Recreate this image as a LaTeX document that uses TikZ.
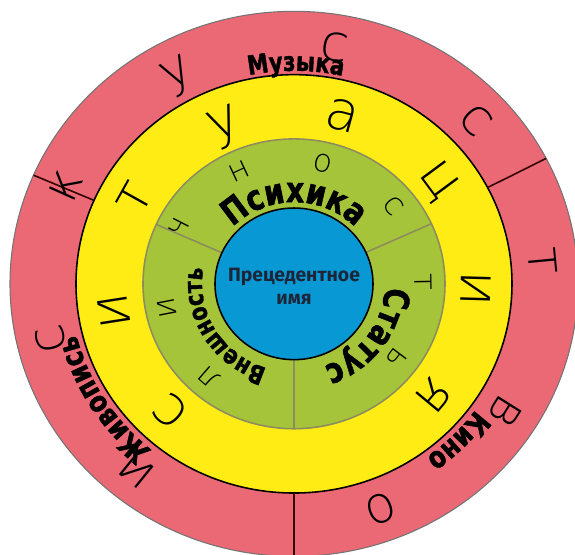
\documentclass[tikz,border=0pt]{standalone}
\usepackage{fontspec}
\setmainfont{Fira Sans}
\IfFontExistsTF{DejaVuSans-ExtraLight.ttf}
  {\newfontfamily\thinfont{DejaVuSans-ExtraLight.ttf}}
  {\newfontfamily\thinfont{Fira Sans}}
\newfontfamily\heavyfont{DejaVu Sans}[FakeStretch=0.8, FakeBold=1.5]
\usetikzlibrary{decorations.text}
\definecolor{ringpink}{RGB}{234,105,117}
\definecolor{ringyellow}{RGB}{255,236,20}
\definecolor{ringgreen}{RGB}{166,196,58}
\definecolor{ringblue}{RGB}{8,153,213}
\definecolor{greenedge}{RGB}{140,140,95}
\definecolor{coretext}{RGB}{28,38,56}
\tikzset{
  ring/.style={draw=#1, line width=0.9pt},
  pinkcut/.style={draw=black!80!red, line width=0.9pt},
  greencut/.style={draw=greenedge, line width=0.9pt},
  thinlet/.style={font=\thinfont\fontsize{#1}{#1}\selectfont, inner sep=0pt,
                  text depth=0pt},
  thinlet/.default=14,
  core/.style={font=\bfseries\fontsize{11}{13}\selectfont, text=coretext, align=center},
}
\newcommand\ringword[4]{%
  \path[decorate, decoration={text along path, text align=center,
        text={|\heavyfont\bfseries\fontsize{#3}{#3}\selectfont|#4}}]
    (#1+60:#2) arc[start angle=#1+60, end angle=#1-60, radius=#2];}

\begin{document}
\begin{tikzpicture}[x=0.02cm, y=0.0192cm]
  \useasboundingbox (-294,-282.3) rectangle (281,295.8);
  \draw[fill=ringpink, draw=black!55, line width=0.6pt] (0,0) circle[radius=284];
  \draw[fill=ringyellow, ring=black] (0,0) circle[radius=218];
  \draw[fill=ringgreen, ring=greenedge] (0,0) circle[radius=151];
  \foreach \a in {156.5,27.4,270}
    \draw[pinkcut] (\a:218) -- (\a:284);
  \foreach \a in {155.8,24.5,270}
    \draw[greencut] (\a:151) -- (\a:79);
  \draw[fill=ringblue, ring=black] (0,0) circle[radius=79];
  \node[core] (name) at (0,-3) {Прецедентное\\имя};

  \ringword{90}{85}{20}{Психика}
  \ringword{-36}{91}{20}{Статус}
  \ringword{211}{92}{14.5}{Внешность}
  \ringword{89.5}{222}{15}{Музыка}
  \ringword{-44}{224}{17}{Кино}
  \ringword{211.5}{224}{17}{Живопись}

  \foreach \ch [count=\i] in {л,и,ч,н,о,с,т,ь}{
    \pgfmathsetmacro{\a}{229-38*(\i-1)}
    \node[thinlet=18, rotate=\a-90] (lich\i) at (\a:129) {\ch};
  }
  \foreach \ch [count=\i] in {с,и,т,у,а,ц,и,я}{
    \pgfmathsetmacro{\a}{227-38.1*(\i-1)}
    \node[thinlet=31, rotate=\a-90] (sit\i) at (\a:182) {\ch};
  }
  \foreach \ch [count=\i] in {и,с,к,у,с,с,т,в,о}{
    \pgfmathsetmacro{\a}{231-37.6*(\i-1)}
    \node[thinlet=29, rotate=\a-90] (isk\i) at (\a:250) {\ch};
  }
\end{tikzpicture}
\end{document}
